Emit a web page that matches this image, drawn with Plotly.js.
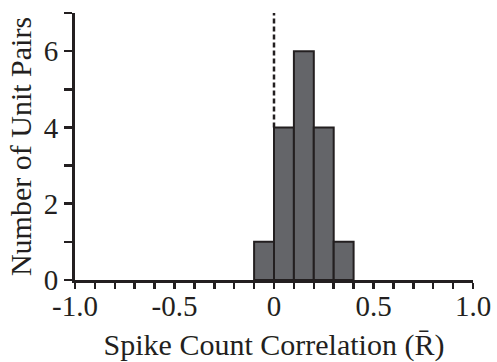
<!DOCTYPE html>
<html>
<head>
<meta charset="utf-8">
<script src="https://cdn.plot.ly/plotly-3.0.1.min.js"></script>
<style>html,body{margin:0;padding:0;background:#fff;}#chart{width:497px;height:362px;}</style>
</head>
<body>
<div id="chart"></div>
<script>
// Bin centers (bin width 0.1) and counts
const binCenters = [-0.05, 0.05, 0.15, 0.25, 0.35];
const binWidth = 0.1;
const counts = [1, 4, 6, 4, 1];
const xTickVals = [-1, -0.5, 0, 0.5, 1];
const xTickText = ['-1.0', '-0.5', '0', '0.5', '1.0'];
const yTickVals = [0, 2, 4, 6];
const yTickText = ['0', '2', '4', '6'];
const refLineX = 0;

const axisColor = '#231f20';
const family = '"Liberation Serif", "Times New Roman", serif';
const tickFont = {family: family, size: 29, color: axisColor};
const titleFont = {family: family, size: 30, color: axisColor};

const trace = {
  type: 'bar',
  x: binCenters,
  y: counts,
  width: binCenters.map(() => binWidth),
  marker: {color: '#646569', line: {color: axisColor, width: 2}},
  hoverinfo: 'skip'
};

const layout = {
  width: 497, height: 362,
  margin: {l: 75, r: 24, t: 13, b: 82},
  paper_bgcolor: '#fff', plot_bgcolor: '#fff',
  showlegend: false,
  font: titleFont,
  xaxis: {
    range: [-1, 1],
    tickvals: xTickVals, ticktext: xTickText,
    ticks: 'outside', ticklen: 6, tickwidth: 2.5, tickcolor: axisColor,
    ticklabelstandoff: -8,
    minor: {dtick: 0.1, tick0: 0, ticks: 'outside', ticklen: 6, tickwidth: 2.5, tickcolor: axisColor, showgrid: false},
    showline: true, linecolor: axisColor, linewidth: 3,
    showgrid: false, zeroline: false,
    tickfont: tickFont,
    title: {text: 'Spike Count Correlation (R\u0304)', font: titleFont, standoff: 16}
  },
  yaxis: {
    range: [0, 7],
    tickvals: yTickVals, ticktext: yTickText,
    ticks: 'outside', ticklen: 8, tickwidth: 2.5, tickcolor: axisColor,
    minor: {dtick: 1, tick0: 0, ticks: 'outside', ticklen: 8, tickwidth: 2.5, tickcolor: axisColor, showgrid: false},
    showline: true, linecolor: axisColor, linewidth: 3,
    showgrid: false, zeroline: false,
    tickfont: tickFont,
    title: {text: 'Number of Unit Pairs', font: titleFont, standoff: 4}
  },
  shapes: [{
    type: 'line', xref: 'x', yref: 'y',
    x0: refLineX, x1: refLineX, y0: counts[1], y1: 7,
    line: {color: axisColor, width: 2.5, dash: '5px,3px'}
  }]
};

Plotly.newPlot('chart', [trace], layout, {displayModeBar: false, staticPlot: true});
</script>
</body>
</html>
